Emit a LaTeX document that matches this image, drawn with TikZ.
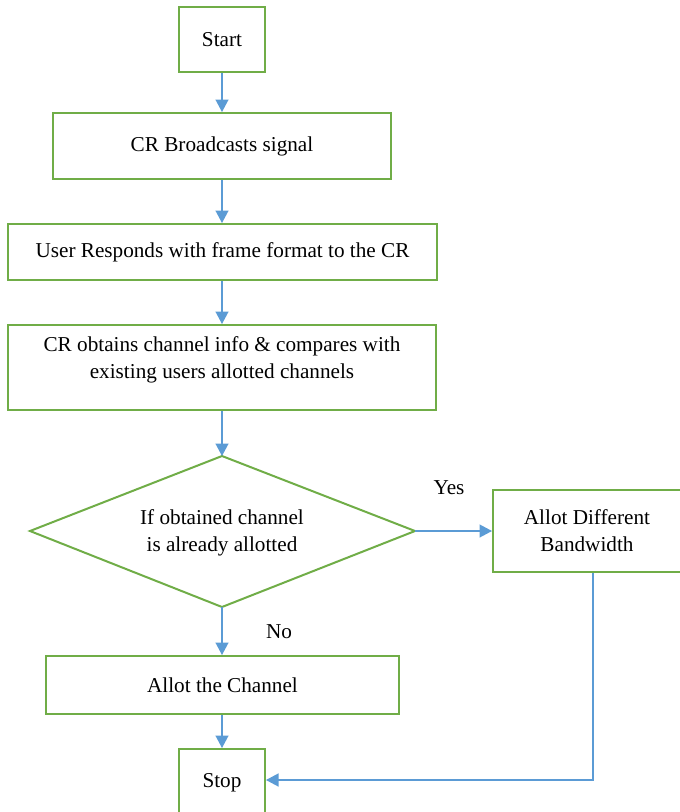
\documentclass[tikz,border=0pt]{standalone}
\usepackage{fontspec}
\setmainfont{Liberation Serif}
\usetikzlibrary{arrows.meta,calc}
\definecolor{boxgreen}{HTML}{70AD47}
\definecolor{arrblue}{HTML}{5B9BD5}
\tikzset{
  flowbox/.style={draw=boxgreen,line width=2pt,inner sep=0pt,align=center,font=\fontsize{21.2}{27}\selectfont},
  flowarr/.style={draw=arrblue,line width=1.3pt,-{Triangle[length=12.5pt,width=13pt]}},
  lbl/.style={font=\fontsize{21.2}{27}\selectfont,inner sep=0pt}
}
\begin{document}
\begin{tikzpicture}[x=1pt,y=-1pt]
\useasboundingbox (0,0) rectangle (680,812);
\begin{scope}
\clip (0,0) rectangle (680,812);
\node[flowbox,minimum width=86pt,minimum height=65pt] (start) at (222,39.5) {Start};
\node[flowbox,minimum width=338pt,minimum height=66pt] (bc) at (222,146) {CR Broadcasts signal};
\node[flowbox,minimum width=429pt,minimum height=56pt] (ur) at (222.5,252) {User Responds with frame format to the CR};
\node[flowbox,minimum width=428pt,minimum height=85pt] (ob) at (222,367.5) {};
\node[lbl,align=center] at (222,360) {CR obtains channel info \& compares with\\existing users allotted channels};
\draw[boxgreen,line width=2pt] (30,531) coordinate (dl) -- (222,456) coordinate (dt) -- (415,531) coordinate (dr) -- (222,607) coordinate (db) -- cycle;
\node[lbl,align=center] (dtext) at (222,532.5) {If obtained channel\\is already allotted};
\node[flowbox,minimum width=188pt,minimum height=82pt] (bw) at (587,531) {Allot Different\\Bandwidth};
\node[flowbox,minimum width=353pt,minimum height=58pt] (ac) at (222.5,685) {Allot the Channel};
\node[flowbox,minimum width=86pt,minimum height=70pt] (stop) at (222,784) {};
\node[lbl] at (222,783) {Stop};
\node[lbl] at (449,488) {Yes};
\node[lbl] at (279,632) {No};
\draw[flowarr] (start.south) -- (bc.north);
\draw[flowarr] (bc.south) -- (ur.north -| bc.south);
\draw[flowarr] (ur.south -| start.south) -- (ob.north -| start.south);
\draw[flowarr] (ob.south -| start.south) -- (dt);
\draw[flowarr] (dr) -- (bw.west);
\draw[flowarr] (db) -- (ac.north -| db);
\draw[flowarr] (ac.south -| start.south) -- (stop.north);
\coordinate (corner) at (593,780);
\draw[flowarr] (bw.south -| corner) -- (corner) -- (stop.east |- corner);
\end{scope}
\end{tikzpicture}
\end{document}
